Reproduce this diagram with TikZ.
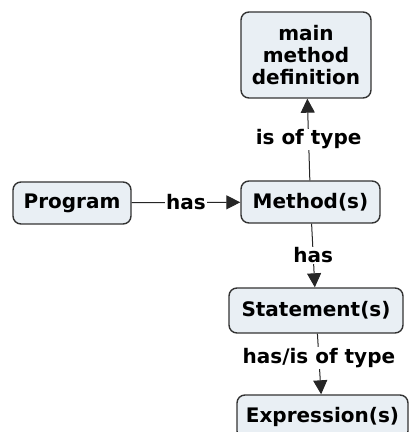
\documentclass[tikz,border=0pt]{standalone}
\usepackage{fontspec}
\setmainfont{DejaVu Sans}
\usetikzlibrary{arrows.meta,positioning}
\definecolor{boxfill}{HTML}{E9EFF4}
\definecolor{boxline}{HTML}{333333}
\tikzset{concept/.style={draw=boxline, fill=boxfill, line width=1.4pt, rounded corners=8pt,
                         font=\fontsize{20}{22}\selectfont\bfseries, align=center, inner sep=2pt},
         link/.style={line width=1pt, draw=black!85, -{Triangle[length=14pt,width=14pt]}},
         lbl/.style={fill=white, inner sep=1pt, font=\fontsize{20}{22}\selectfont\bfseries}}

\begin{document}
\begin{tikzpicture}[x=1pt,y=1pt]
    \useasboundingbox (0,0) rectangle (409,432);
    \node[concept, minimum width=118pt, minimum height=42pt] (prog) at (72,229) {Program};
    \node[concept, minimum width=139pt, minimum height=42pt] (meth) at (310.5,230) {Method(s)};
    \node[concept, minimum width=130pt, minimum height=86pt] (mainm) at (306,377) {main\\method\\definition};
    \node[concept, minimum width=174pt, minimum height=45pt] (stmt) at (316,121.5) {Statement(s)};
    \node[concept, minimum width=171pt, minimum height=44pt] (expr) at (322.5,15) {Expression(s)};
    \draw[link] (prog) -- node[lbl] {has} (meth);
    \draw[link] (meth) -- node[lbl] {is of type} (mainm);
    \draw[link] (meth) -- node[lbl] {has} (stmt);
    \draw[link] (stmt) -- node[lbl, pos=0.4] {has/is of type} (expr);
\end{tikzpicture}
\end{document}
